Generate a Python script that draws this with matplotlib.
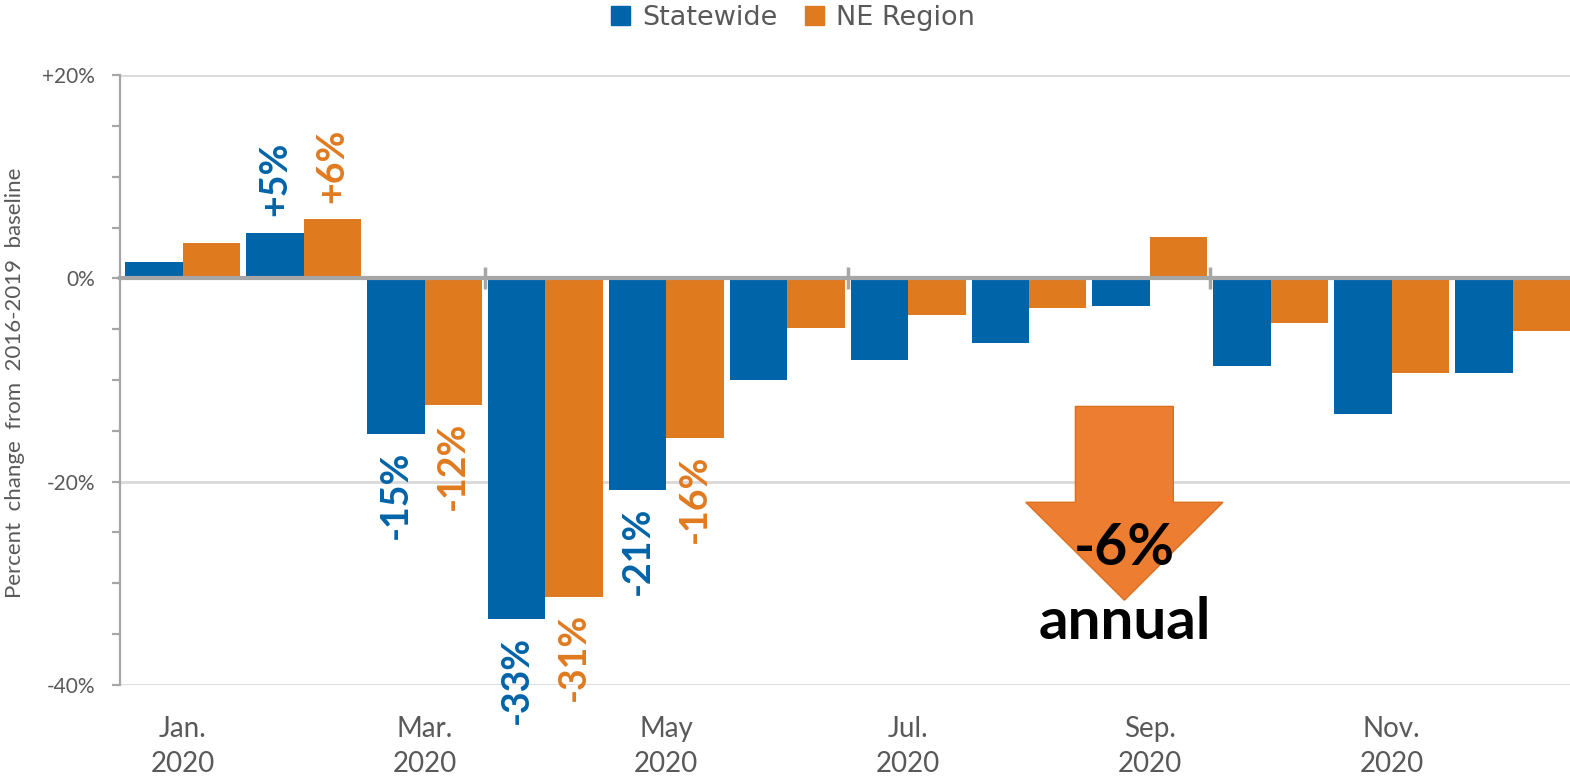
import matplotlib
matplotlib.use("Agg")
import matplotlib.pyplot as plt
from matplotlib.patches import Patch, FancyArrow
import numpy as np

# data (percent change vs 2016-2019 baseline)
months = ['Jan.', 'Feb.', 'Mar.', 'Apr.', 'May', 'Jun.', 'Jul.', 'Aug.', 'Sep.', 'Oct.', 'Nov.', 'Dec.']
statewide = [1.6, 4.5, -15.3, -33.5, -20.8, -10.0, -8.0, -6.4, -2.7, -8.6, -13.3, -9.3]
ne_region = [3.5, 5.8, -12.5, -31.3, -15.7, -4.9, -3.6, -2.9, 4.1, -4.4, -9.3, -5.2]
# bar labels shown on the chart (month index -> text)
state_labels = {1: '+5%', 2: '-15%', 3: '-33%', 4: '-21%'}
ne_labels = {1: '+6%', 2: '-12%', 3: '-31%', 4: '-16%'}
annual_text = '-6%'

blue = '#0064A8'
orange = '#E07A1F'
arrow_col = '#ED7D31'
txt_gray = '#595959'
ax_gray = '#A6A6A6'
grid_gray = '#D9D9D9'
font = 'Lato'

fig = plt.figure(figsize=(15.7, 7.79), dpi=100)
ax = fig.add_axes([0.0764, 0.1207, 0.9255, 0.783])

x = np.arange(len(months))
w = 0.475
ax.bar(x - w/2, statewide, w, color=blue, zorder=2)
ax.bar(x + w/2, ne_region, w, color=orange, zorder=2)

ax.set_xlim(-0.52, 11.5)
ax.set_ylim(-40, 20)

# gridlines
for g in [20, -20, -40]:
    ax.axhline(g, color=grid_gray, lw=2, zorder=1)

# spines
for s in ['top', 'right']:
    ax.spines[s].set_visible(False)
ax.spines['left'].set_color(ax_gray)
ax.spines['left'].set_linewidth(1.6)
ax.spines['bottom'].set_position(('data', 0))
ax.spines['bottom'].set_color(ax_gray)
ax.spines['bottom'].set_linewidth(3)
ax.spines['bottom'].set_zorder(3)

# y ticks every 5, labels at 20
yt = np.arange(-40, 21, 5)
ax.set_yticks(yt)
def ylab(v):
    if v % 20 != 0:
        return ''
    if v > 0:
        return '+%d%%' % v
    return '%d%%' % v
ax.set_yticklabels([ylab(v) for v in yt], fontsize=15, color=txt_gray, family=font)
ax.tick_params(axis='y', length=6, width=1.6, color=ax_gray, pad=12)

# x ticks cross the zero line every 3 months
ax.set_xticks([2.5, 5.5, 8.5])
ax.set_xticklabels([])
ax.tick_params(axis='x', direction='inout', length=16, width=2.5, color=ax_gray)

# month labels under the plot
for i in range(0, 12, 2):
    ax.text(x[i], -44.3, months[i], ha='center', va='center', fontsize=20,
            color=txt_gray, family=font)
    ax.text(x[i], -47.8, '2020', ha='center', va='center', fontsize=20,
            color=txt_gray, family=font)

ax.set_ylabel('Percent  change  from  2016-2019  baseline', fontsize=16,
              color=txt_gray, family=font)
ax.yaxis.set_label_coords(-0.0655, 0.495)

# value labels
def put_labels(offset, vals, labels, col):
    for i, t in labels.items():
        v = vals[i]
        ax.annotate(t, (x[i] + offset, v), xytext=(0, 12 if v > 0 else -12),
                    textcoords='offset points', rotation=90, ha='center',
                    va='bottom' if v > 0 else 'top', fontsize=27,
                    fontweight='bold', color=col, family=font, zorder=4)

put_labels(-w/2, statewide, state_labels, blue)
put_labels(w/2, ne_region, ne_labels, orange)

# annual arrow
arr = FancyArrow(7.789, -12.6, 0, -19.06, width=0.81, head_width=1.63,
                 head_length=9.63, length_includes_head=True,
                 facecolor=arrow_col, edgecolor='#D9701F', lw=1, zorder=3)
ax.add_patch(arr)
ax.text(7.789, -26.6, annual_text, ha='center', va='center', fontsize=41,
        fontweight='bold', color='black', family=font, zorder=4)
ax.text(7.789, -33.9, 'annual', ha='center', va='center', fontsize=42,
        fontweight='bold', color='black', family=font, zorder=4)

# legend
handles = [Patch(color=blue, label='Statewide'), Patch(color=orange, label='NE Region')]
leg = fig.legend(handles=handles, loc='center', bbox_to_anchor=(0.505, 0.977), ncol=2,
                 frameon=False, handlelength=0.7, handleheight=0.7, handletextpad=0.45,
                 columnspacing=1.0, prop={'family': 'DejaVu Sans', 'size': 19.5})
for t in leg.get_texts():
    t.set_color(txt_gray)

fig.savefig('out.png', dpi=100)
